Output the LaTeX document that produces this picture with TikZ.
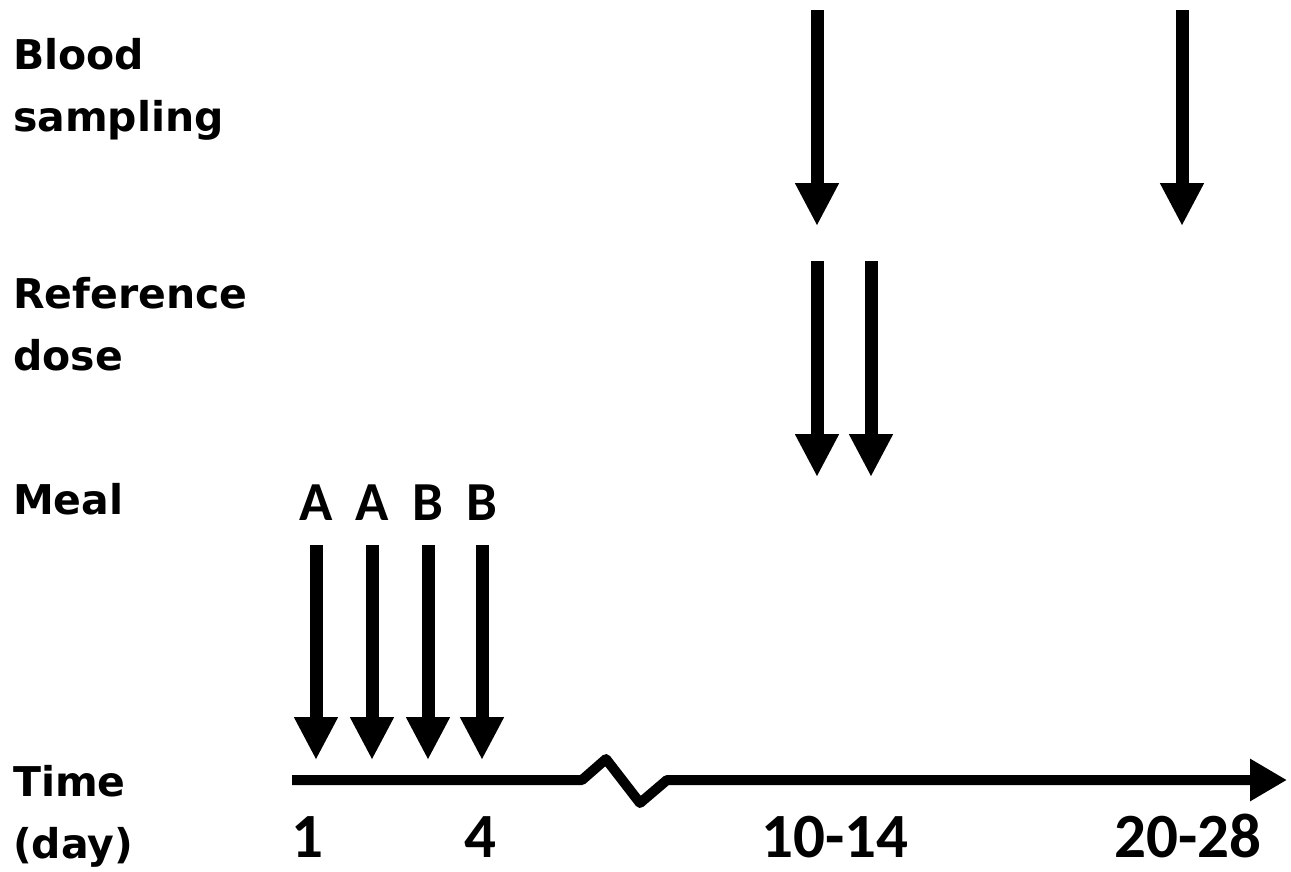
\documentclass[tikz,border=0pt]{standalone}
\usepackage{fontspec}
\setmainfont{Carlito}
\newfontfamily\rowfont{DejaVu Sans}
\usetikzlibrary{arrows.meta}

\tikzset{
  rowlabel/.style={anchor=north west, inner sep=0pt, align=left,
    font=\rowfont\bfseries\fontsize{41}{62}\selectfont},
  daylabel/.style={anchor=base, inner sep=0pt, font=\bfseries\fontsize{63}{63}\selectfont},
  meallabel/.style={anchor=base, inner sep=0pt, font=\bfseries\fontsize{55}{55}\selectfont},
  event/.style={line width=13pt, -{Triangle[length=43pt,width=41pt]}},
  timeline/.style={line width=10pt, line join=round, -{Triangle[length=37pt,width=40pt]}},
}

\begin{document}
\begin{tikzpicture}[x=1pt, y=-1pt]
\useasboundingbox (0,0) rectangle (1291,871);

% row labels
\node[rowlabel] (blood) at (13,38) {Blood\\sampling};
\node[rowlabel] (ref)   at (13,277) {Reference\\dose};
\node[rowlabel] (meal)  at (13,483) {Meal};
\node[rowlabel] (time)  at (13,765) {Time\\(day)};

% time axis with break
\coordinate (t0) at (292,780);
\coordinate (b1) at (582,780);
\coordinate (b2) at (606,759);
\coordinate (b3) at (640,803);
\coordinate (b4) at (667,780);
\coordinate (t1) at (1287,780);
\draw[timeline] (t0) -- (b1) -- (b2) -- (b3) -- (b4) -- (t1);

\node[daylabel] (d1)  at (307,857)  {1};
\node[daylabel] (d4)  at (480,857)  {4};
\node[daylabel] (d10) at (835,857)  {10-14};
\node[daylabel] (d20) at (1188,857) {20-28};

% meals
\foreach[count=\k] \x/\m in {316/A,372/A,428/B,482/B} {
  \node[meallabel] (lab\k) at (\x,520) {\m};
  \coordinate (ms\k) at (\x,545);
  \coordinate (me\k) at (\x,760);
  \draw[event] (ms\k) -- (me\k);
}

% reference doses
\foreach[count=\k] \x in {817,871} {
  \coordinate (rs\k) at (\x,261);
  \coordinate (re\k) at (\x,477);
  \draw[event] (rs\k) -- (re\k);
}

% blood sampling
\foreach[count=\k] \x in {817,1182} {
  \coordinate (bs\k) at (\x,10);
  \coordinate (be\k) at (\x,226);
  \draw[event] (bs\k) -- (be\k);
}

\end{tikzpicture}
\end{document}
